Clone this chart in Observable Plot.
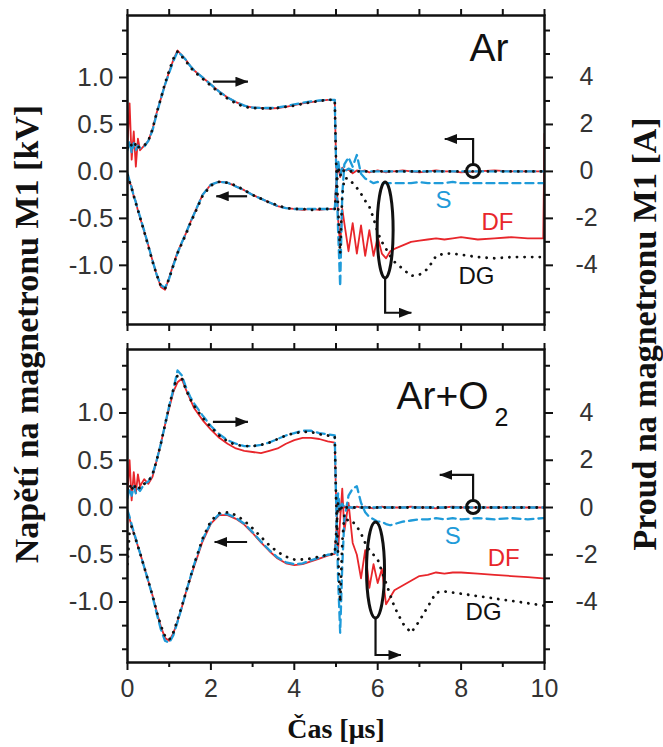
<!DOCTYPE html>
<html>
<head>
<meta charset="utf-8">
<script src="https://cdn.jsdelivr.net/npm/d3@7"></script>
<script src="https://cdn.jsdelivr.net/npm/@observablehq/plot@0.6"></script>
<style>
  html, body { margin: 0; padding: 0; background: #fff; }
  #wrap { position: relative; width: 663px; height: 747px; background: #fff; overflow: hidden; }
  #top, #bot { position: absolute; left: 0; }
  #top { top: 0; }
  #bot { top: 335px; }
  .ttl { position: absolute; white-space: nowrap; font-family: "Liberation Serif", "Times New Roman", serif; font-weight: bold; color: #111; line-height: 1; }
</style>
</head>
<body>
<div id="wrap">
  <div id="top"></div>
  <div id="bot"></div>
  <div class="ttl" id="ytl" style="left:27px; top:334px; font-size:34px; transform: translate(-50%,-50%) rotate(-90deg);">Napětí na magnetronu M1 [kV]</div>
  <div class="ttl" id="ytr" style="left:645px; top:334px; font-size:34px; transform: translate(-50%,-50%) rotate(-90deg);">Proud na magnetronu M1 [A]</div>
  <div class="ttl" id="xt" style="left:336px; top:729px; font-size:28px; transform: translate(-50%,-50%);">Čas [μs]</div>
</div>
<script>
// ---------- data ----------
// time axis [μs]
const T = [
  0, 0.05, 0.1, 0.15, 0.2, 0.25, 0.3,
  0.4, 0.5, 0.6, 0.7, 0.8, 0.9, 1.0, 1.1, 1.2, 1.3, 1.4, 1.5, 1.6,
  1.8, 2.0, 2.2, 2.4, 2.6, 2.8, 3.0, 3.2, 3.4, 3.6, 3.8, 4.0, 4.2, 4.4, 4.6, 4.8,
  4.97, 5.0, 5.05, 5.1, 5.15, 5.2,
  5.3, 5.4, 5.5, 5.6, 5.7, 5.8, 5.9, 6.0, 6.1, 6.2, 6.3, 6.4,
  6.6, 6.8, 7.0, 7.2, 7.4, 7.6, 7.8, 8.0,
  8.4, 8.8, 9.2, 9.6, 9.97, 10.0
];

// ---- Ar : voltage [kV] ----
const vS_Ar = [
  -0.02, -0.1, -0.18, -0.26, -0.33, -0.41, -0.48,
  -0.63, -0.79, -0.95, -1.1, -1.21, -1.24, -1.14, -1.0, -0.87, -0.76, -0.66, -0.55, -0.45,
  -0.25, -0.14, -0.11, -0.12, -0.16, -0.2, -0.25, -0.29, -0.33, -0.37, -0.39, -0.4, -0.4, -0.4, -0.4, -0.4,
  -0.4, -0.2, 0.12, -0.04, 0.03, 0.0,
  0.03, 0.01, 0.0, 0.0, 0.0, 0.0, 0.0, 0.0, 0.0, 0.0, 0.0, 0.0,
  0.0, 0.0, 0.0, 0.0, 0.0, 0.0, 0.0, 0.0,
  0.0, 0.0, 0.0, 0.0, 0.0, 0.0
];
const vDF_Ar = [
  -0.03, -0.12, -0.16, -0.27, -0.32, -0.42, -0.49,
  -0.64, -0.79, -0.95, -1.1, -1.23, -1.26, -1.13, -0.99, -0.86, -0.76, -0.66, -0.55, -0.45,
  -0.25, -0.14, -0.11, -0.12, -0.16, -0.2, -0.25, -0.29, -0.33, -0.37, -0.39, -0.4, -0.41, -0.4, -0.41, -0.4,
  -0.4, -0.15, 0.08, -0.06, 0.04, 0.01,
  0.02, -0.02, 0.01, 0.0, 0.01, -0.01, 0.0, 0.01, 0.0, -0.01, 0.0, 0.0,
  0.01, 0.0, -0.01, 0.0, 0.01, 0.0, 0.0, -0.01,
  0.0, 0.01, 0.0, 0.0, 0.0, 0.0
];
const vDG_Ar = [
  -0.04, -0.11, -0.18, -0.26, -0.34, -0.41, -0.49,
  -0.64, -0.8, -0.96, -1.1, -1.22, -1.25, -1.14, -1.0, -0.87, -0.77, -0.67, -0.56, -0.46,
  -0.26, -0.15, -0.11, -0.12, -0.15, -0.2, -0.25, -0.29, -0.33, -0.36, -0.39, -0.4, -0.4, -0.41, -0.4, -0.4,
  -0.4, -0.25, 0.05, -0.05, 0.02, 0.0,
  0.0, 0.0, 0.0, 0.0, 0.0, 0.0, 0.0, 0.0, 0.0, 0.0, 0.0, 0.0,
  0.0, 0.0, 0.0, 0.0, 0.0, 0.0, 0.0, 0.0,
  0.0, 0.0, 0.0, 0.0, 0.0, 0.0
];
// ---- Ar : current [A] ----
const iS_Ar = [
  0.9, 1.3, 0.8, 1.2, 0.9, 1.1, 1.0,
  1.05, 1.3, 1.75, 2.45, 3.1, 3.7, 4.2, 4.7, 5.1, 4.95, 4.75, 4.5, 4.3,
  4.0, 3.7, 3.4, 3.15, 2.95, 2.8, 2.72, 2.7, 2.7, 2.72, 2.78, 2.85, 2.92, 2.98, 3.02, 3.05,
  3.05, 0.5, -2.5, -4.9, -1.0, 0.3,
  0.6, 0.2, 0.7, -0.1, -0.3, -0.4, -0.5, -0.45, -0.5, -0.5, -0.5, -0.5,
  -0.5, -0.5, -0.45, -0.5, -0.5, -0.5, -0.45, -0.5,
  -0.5, -0.5, -0.5, -0.5, -0.5, -0.5
];
const iDF_Ar = [
  1.2, 2.9, 0.5, 1.7, 0.2, 1.4, 0.9,
  1.1, 1.3, 1.8, 2.5, 3.1, 3.7, 4.25, 4.75, 5.15, 4.95, 4.75, 4.5, 4.3,
  4.0, 3.7, 3.4, 3.15, 2.95, 2.8, 2.72, 2.7, 2.68, 2.7, 2.75, 2.82, 2.9, 2.95, 3.0, 3.05,
  3.05, 0.5, -2.0, -3.2, -1.6, -2.2,
  -3.4, -2.2, -3.5, -2.3, -3.6, -2.5, -3.6, -2.8, -3.5, -3.7, -3.4, -3.3,
  -3.15, -3.0, -2.95, -2.9, -2.85, -2.9, -2.85, -2.8,
  -2.9, -2.85, -2.8, -2.85, -2.85, 1.6
];
const iDG_Ar = [
  1.0, 1.2, 1.1, 1.0, 1.2, 1.0, 1.1,
  1.1, 1.3, 1.8, 2.5, 3.1, 3.75, 4.3, 4.8, 5.1, 4.9, 4.7, 4.45, 4.25,
  3.95, 3.65, 3.35, 3.1, 2.9, 2.75, 2.7, 2.68, 2.68, 2.7, 2.75, 2.8, 2.88, 2.95, 3.0, 3.05,
  3.05, 0.5, -1.5, -3.5, -1.0, -0.3,
  -0.3, -0.5, -0.7, -0.95, -1.25, -1.5, -2.0, -2.6, -3.0, -3.3, -3.6, -3.85,
  -4.15, -4.45, -4.4, -4.15, -3.6, -3.5, -3.5, -3.55,
  -3.65, -3.7, -3.65, -3.65, -3.65, -3.6
];

// ---- Ar+O2 : voltage [kV] ----
const vS_O2 = [
  -0.03, -0.1, -0.18, -0.26, -0.33, -0.41, -0.48,
  -0.63, -0.78, -0.94, -1.12, -1.29, -1.41, -1.43, -1.35, -1.21, -1.06, -0.9, -0.75, -0.6,
  -0.34, -0.16, -0.07, -0.07, -0.11, -0.17, -0.26, -0.36, -0.45, -0.53, -0.58, -0.6, -0.59, -0.56, -0.53, -0.5,
  -0.49, -0.35, 0.15, -0.03, 0.04, 0.0,
  0.0, 0.0, 0.0, 0.0, 0.0, 0.0, 0.0, 0.0, 0.0, 0.0, 0.0, 0.0,
  0.0, 0.0, 0.0, 0.0, 0.0, 0.0, 0.0, 0.0,
  0.0, 0.0, 0.0, 0.0, 0.0, 0.0
];
const vDF_O2 = [
  -0.05, -0.12, -0.2, -0.27, -0.34, -0.41, -0.48,
  -0.63, -0.78, -0.93, -1.1, -1.26, -1.38, -1.41, -1.33, -1.2, -1.06, -0.9, -0.76, -0.62,
  -0.36, -0.17, -0.08, -0.08, -0.12, -0.18, -0.27, -0.37, -0.46, -0.54, -0.59, -0.61, -0.6, -0.57, -0.54, -0.51,
  -0.49, -0.3, 0.1, -0.05, 0.05, 0.0,
  0.02, -0.01, 0.01, 0.0, 0.01, 0.0, -0.01, 0.0, 0.01, 0.0, 0.0, 0.0,
  0.0, 0.01, 0.0, 0.0, -0.01, 0.0, 0.01, 0.0,
  0.0, 0.0, 0.0, 0.0, 0.0, 0.0
];
const vDG_O2 = [
  -0.6, -0.25, -0.2, -0.27, -0.34, -0.41, -0.48,
  -0.63, -0.78, -0.93, -1.1, -1.25, -1.36, -1.4, -1.32, -1.19, -1.05, -0.9, -0.75, -0.6,
  -0.33, -0.14, -0.06, -0.05, -0.08, -0.14, -0.22, -0.31, -0.4, -0.47, -0.52, -0.55, -0.55, -0.54, -0.52, -0.5,
  -0.49, -0.3, 0.05, -0.05, 0.02, 0.0,
  0.0, 0.0, 0.0, 0.0, 0.0, 0.0, 0.0, 0.0, 0.0, 0.0, 0.0, 0.0,
  0.0, 0.0, 0.0, 0.0, 0.0, 0.0, 0.0, 0.0,
  0.0, 0.0, 0.0, 0.0, 0.0, 0.0
];
// ---- Ar+O2 : current [A] ----
const iS_O2 = [
  0.4, 0.8, 0.5, 0.9, 0.6, 0.8, 0.7,
  1.0, 1.1, 1.4, 2.0, 2.7, 3.5, 4.3, 5.0, 5.8, 5.6, 5.1, 4.7, 4.4,
  3.9, 3.45, 3.1, 2.85, 2.7, 2.6, 2.6, 2.65, 2.75, 2.9, 3.05, 3.15, 3.25, 3.25, 3.15, 3.1,
  3.05, 0.5, -3.0, -5.3, -2.5, -0.5,
  0.5, 0.8, 0.9, 0.2, -0.2, -0.4, -0.5, -0.6, -0.6, -0.7, -0.75, -0.7,
  -0.6, -0.55, -0.5, -0.5, -0.45, -0.5, -0.45, -0.5,
  -0.45, -0.5, -0.45, -0.5, -0.45, -0.45
];
const iDF_O2 = [
  0.6, 2.0, 0.3, 1.5, 0.6, 1.4, 0.9,
  1.2, 1.0, 1.3, 2.0, 2.7, 3.5, 4.2, 4.9, 5.3, 5.45, 5.0, 4.6, 4.2,
  3.7, 3.3, 2.95, 2.7, 2.5, 2.4, 2.35, 2.3, 2.4, 2.5, 2.7, 2.85, 2.95, 2.95, 2.9, 2.8,
  2.75, 0.5, -1.8, -0.5, 0.8, -1.0,
  0.2, -1.5, -2.0, -3.0, -1.8, -3.4, -2.4, -3.2, -2.6, -4.1, -3.8, -3.5,
  -3.3, -3.1, -2.9, -2.85, -2.75, -2.8, -2.75, -2.75,
  -2.8, -2.85, -2.9, -2.95, -3.0, -3.0
];
const iDG_O2 = [
  0.8, 1.0, 0.7, 1.0, 0.8, 0.9, 0.8,
  1.0, 1.1, 1.4, 2.0, 2.7, 3.5, 4.3, 5.0, 5.6, 5.5, 5.0, 4.6, 4.3,
  3.8, 3.4, 3.05, 2.8, 2.65, 2.6, 2.6, 2.65, 2.75, 2.9, 3.05, 3.15, 3.2, 3.2, 3.1, 3.05,
  3.0, 0.5, -2.0, -4.0, -1.5, -0.3,
  -0.6, -0.6, -0.8, -1.1, -1.5, -1.8, -2.0, -2.2, -2.7, -3.2, -3.7, -4.2,
  -4.9, -5.3, -4.8, -4.2, -3.6, -3.55, -3.6, -3.65,
  -3.75, -3.85, -3.95, -4.05, -4.15, -4.15
];

// tick values
const xTicks = [0, 1, 2, 3, 4, 5, 6, 7, 8, 9, 10];
const xLabelled = [0, 2, 4, 6, 8, 10];
const vLabelled = [-1, -0.5, 0, 0.5, 1];          // kV
const vMinor = [-1.5, -1.25, -0.75, -0.25, 0.25, 0.75, 1.25, 1.5];
const aLabelled = [-4, -2, 0, 2, 4];              // A
const aMinor = [-6, -5, -3, -1, 1, 3, 5, 6];
const A_PER_KV = 4;                               // right axis 4 A  <->  left axis 1 kV

const seriesNames = ["S", "DF", "DG"];
const panelNames = ["Ar", "Ar+O"];

// ---------- drawing ----------
const sans = "'Liberation Sans', Arial, Helvetica, sans-serif";
const look = {
  DF: {stroke: "#e8262b", strokeWidth: 1.8},
  S:  {stroke: "#1f9bd9", strokeWidth: 2.3, strokeDasharray: "8,5"},
  DG: {stroke: "#111111", strokeWidth: 2.8, strokeDasharray: "0.1,7.5", strokeLinecap: "round"}
};
const colorOf = {S: "#1f9bd9", DF: "#e8262b", DG: "#111111"};

function rows(v, a) { return T.map((t, k) => ({t, v: v[k], a: a[k]})); }

function annotations(id, p) {
  return (index, scales) => {
    const x = scales.x, y = scales.y;
    const g = d3.create("svg:g");
    const defs = g.append("defs");
    defs.append("marker").attr("id", id).attr("viewBox", "0 0 13 10").attr("refX", 12.5).attr("refY", 5)
      .attr("markerWidth", 13).attr("markerHeight", 10).attr("markerUnits", "userSpaceOnUse").attr("orient", "auto")
      .append("path").attr("d", "M0,0L13,5L0,10z").attr("fill", "#111");
    const s = g.append("g").attr("fill", "none").attr("stroke", "#111").attr("stroke-width", 2.2);
    s.append("path").attr("d", `M${x(p.ra[0])},${y(p.ra[2])}H${x(p.ra[1])}`).attr("marker-end", `url(#${id})`);
    s.append("path").attr("d", `M${x(p.la[1])},${y(p.la[2])}H${x(p.la[0])}`).attr("marker-end", `url(#${id})`);
    const r = 6.5;
    s.append("circle").attr("cx", x(p.c[0])).attr("cy", y(p.c[1])).attr("r", r).attr("stroke-width", 3);
    s.append("path").attr("d", `M${x(p.c[0])},${y(p.c[1]) - r}V${y(p.c[2])}H${x(p.c[3])}`).attr("marker-end", `url(#${id})`);
    const ry = 48;
    s.append("ellipse").attr("cx", x(p.e[0])).attr("cy", y(p.e[1])).attr("rx", p.e[2]).attr("ry", ry).attr("stroke-width", 3);
    s.append("path").attr("d", `M${x(p.e[0])},${y(p.e[1]) + ry}V${y(p.e[3])}H${x(p.e[4])}`).attr("marker-end", `url(#${id})`);
    return g.node();
  };
}

function panel(cfg) {
  const data = {S: rows(cfg.v.S, cfg.a.S), DF: rows(cfg.v.DF, cfg.a.DF), DG: rows(cfg.v.DG, cfg.a.DG)};
  const lineMarks = [];
  for (const name of ["DF", "S", "DG"]) {
    lineMarks.push(Plot.line(data[name], {x: "t", y: "v", ...look[name], clip: true}));
    lineMarks.push(Plot.line(data[name], {x: "t", y: d => d.a / A_PER_KV, ...look[name], clip: true}));
  }
  const ax = {strokeWidth: 2, stroke: "#111", label: null};
  const marks = [
    Plot.axisX({anchor: "top", ticks: xTicks, tickSize: 7, tickFormat: () => "", ...ax}),
    cfg.labels
      ? Plot.axisX({anchor: "bottom", ticks: xTicks.filter(t => !xLabelled.includes(t)), tickSize: 5, tickFormat: () => "", ...ax})
      : Plot.axisX({anchor: "bottom", ticks: xTicks, tickSize: 7, tickFormat: () => "", ...ax}),
    Plot.axisY({anchor: "left", ticks: vMinor, tickSize: 5, tickFormat: () => "", ...ax}),
    Plot.axisY({anchor: "left", ticks: vLabelled, tickSize: 8, tickPadding: 6, fill: "#333", fontSize: 26, tickFormat: d => d.toFixed(1), ...ax}),
    Plot.axisY({anchor: "right", ticks: aMinor.map(a => a / A_PER_KV), tickSize: 5, tickFormat: () => "", ...ax}),
    Plot.axisY({anchor: "right", ticks: aLabelled.map(a => a / A_PER_KV), tickSize: 8, tickPadding: 34, textAnchor: "middle", fill: "#333", fontSize: 25,
      tickFormat: d => String(Math.round(d * A_PER_KV)), ...ax}),
    ...lineMarks,
    Plot.frame({stroke: "#111", strokeWidth: 2.5}),
    Plot.text(seriesNames, {x: cfg.lab.x, y: cfg.lab.y, text: d => d, fill: d => colorOf[d], fontSize: 24, fontFamily: sans}),
    Plot.text([cfg.name], {x: [cfg.nameAt[0]], y: [cfg.nameAt[1]], text: d => d, textAnchor: "start", fontSize: 39, fill: "#111", fontFamily: sans}),
    annotations(cfg.id, cfg.ann)
  ];
  if (cfg.sub) marks.push(Plot.text([cfg.sub[0]], {x: [cfg.sub[1]], y: [cfg.sub[2]], text: d => d, textAnchor: "start", fontSize: 25, fill: "#111", fontFamily: sans}));
  if (cfg.labels) marks.splice(2, 0, Plot.axisX({anchor: "bottom", ticks: xLabelled, tickSize: 8, tickPadding: 9, fill: "#333", fontSize: 25, tickFormat: d => String(d), ...ax}));
  return Plot.plot({
    width: 663, height: cfg.height,
    marginLeft: 127, marginRight: 119, marginTop: cfg.mt, marginBottom: cfg.mb,
    x: {domain: [0, 10]},
    y: {domain: cfg.yDomain},
    style: {fontFamily: sans, fontSize: "24px", color: "#111", background: "transparent", overflow: "visible"},
    marks
  });
}

const chartAr = panel({
  id: "ahTop", height: 335, mt: 15, mb: 11, yDomain: [-1.63, 1.66], labels: false,
  v: {S: vS_Ar, DF: vDF_Ar, DG: vDG_Ar}, a: {S: iS_Ar, DF: iDF_Ar, DG: iDG_Ar},
  lab: {x: [7.58, 8.87, 8.37], y: [-0.31, -0.54, -1.12]},
  name: panelNames[0], nameAt: [8.2, 1.31],
  ann: {ra: [2.06, 2.9, 0.95], la: [2.14, 2.88, -0.27], c: [8.3, 0, 0.34, 7.62], e: [6.19, -0.63, 8, -1.51, 6.82]}
});
const chartO2 = panel({
  id: "ahBot", height: 412, mt: 14, mb: 85, yDomain: [-1.64, 1.672], labels: true,
  v: {S: vS_O2, DF: vDF_O2, DG: vDG_O2}, a: {S: iS_O2, DF: iDF_O2, DG: iDG_O2},
  lab: {x: [7.8, 9.02, 8.54], y: [-0.3, -0.54, -1.11]},
  name: panelNames[1], nameAt: [6.45, 1.17], sub: ["2", 8.8, 0.95],
  ann: {ra: [2.06, 2.9, 0.9], la: [2.1, 2.88, -0.37], c: [8.3, 0, 0.34, 7.5], e: [5.96, -0.667, 9, -1.566, 6.57]}
});
document.getElementById("top").appendChild(chartAr);
document.getElementById("bot").appendChild(chartO2);
</script>
</body>
</html>
